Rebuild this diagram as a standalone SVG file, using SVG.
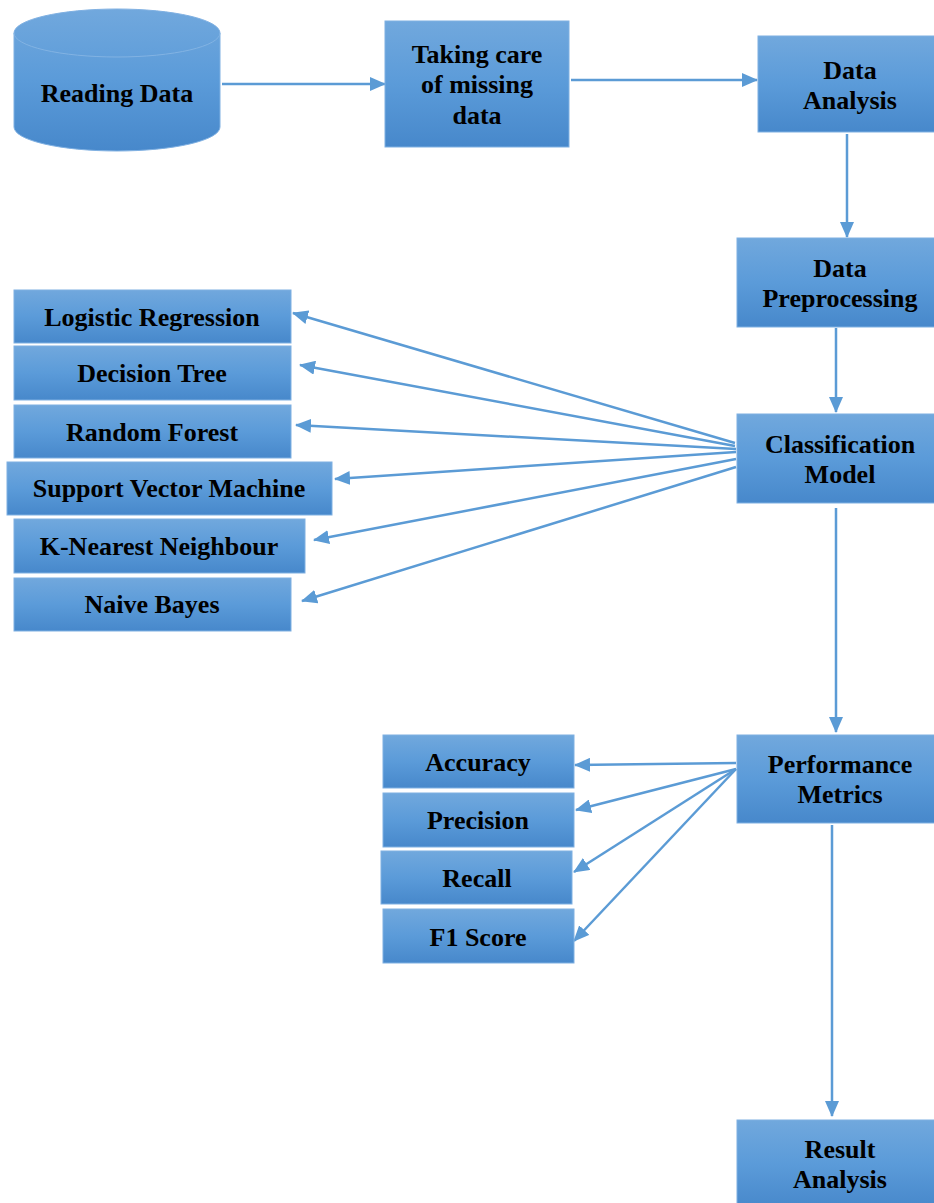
<svg xmlns="http://www.w3.org/2000/svg" width="934" height="1203" viewBox="0 0 934 1203">
<style>
.box{fill:url(#g);stroke:#7fb0e2;stroke-width:1}
.t{font-family:"Liberation Serif","Times New Roman",serif;font-weight:bold;font-size:26px;fill:#000;text-anchor:middle}
.c{stroke:#5b9bd5;stroke-width:2.5;fill:none;marker-end:url(#ah)}
</style>
<defs>
<linearGradient id="g" x1="0" y1="0" x2="0" y2="1">
<stop offset="0" stop-color="#71a8dd"/>
<stop offset="0.5" stop-color="#5b9bd9"/>
<stop offset="1" stop-color="#4788cb"/>
</linearGradient>
<marker id="ah" markerUnits="userSpaceOnUse" markerWidth="16" markerHeight="14" refX="15" refY="7" orient="auto">
<path d="M0,0 L16,7 L0,14 Z" fill="#5b9bd5"/>
</marker>
</defs>
<rect width="934" height="1203" fill="#fff"/>
<g id="connectors">
<line class="c" x1="222" y1="84" x2="385" y2="84"/>
<line class="c" x1="571" y1="80" x2="757" y2="80"/>
<line class="c" x1="847" y1="134" x2="847" y2="237"/>
<line class="c" x1="836" y1="328" x2="836" y2="412"/>
<line class="c" x1="735" y1="443" x2="293" y2="313"/>
<line class="c" x1="735" y1="446" x2="300" y2="365"/>
<line class="c" x1="736" y1="449" x2="296" y2="425"/>
<line class="c" x1="736" y1="452" x2="335" y2="479"/>
<line class="c" x1="736" y1="459" x2="314" y2="540"/>
<line class="c" x1="736" y1="467" x2="302" y2="601"/>
<line class="c" x1="836" y1="508" x2="836" y2="732"/>
<line class="c" x1="736" y1="763" x2="575" y2="765"/>
<line class="c" x1="736" y1="769" x2="576" y2="810"/>
<line class="c" x1="736" y1="769" x2="574" y2="872"/>
<line class="c" x1="736" y1="769" x2="574" y2="941"/>
<line class="c" x1="832" y1="825" x2="832" y2="1116"/>
</g>
<g id="reading-data">
<path d="M14,33 A103,24 0 0 1 220,33 L220,127 A103,24 0 0 1 14,127 Z" fill="url(#g)" stroke="#7fb0e2" stroke-width="1"/>
<path d="M14,33 A103,24 0 0 0 220,33" fill="none" stroke="#82b3e3" stroke-width="1"/>
<text class="t" x="117" y="102">Reading Data</text>
</g>
<g id="missing-data">
<rect class="box" x="385" y="21" width="184" height="126"/>
<text class="t" x="477" y="63">Taking care</text>
<text class="t" x="477" y="93">of missing</text>
<text class="t" x="477" y="124">data</text>
</g>
<g id="data-analysis">
<rect class="box" x="758" y="36" width="180" height="96"/>
<text class="t" x="850" y="79">Data</text>
<text class="t" x="850" y="109">Analysis</text>
</g>
<g id="data-preprocessing">
<rect class="box" x="737" y="238" width="200" height="89"/>
<text class="t" x="840" y="277">Data</text>
<text class="t" x="840" y="307">Preprocessing</text>
</g>
<g id="classification-model">
<rect class="box" x="737" y="414" width="200" height="89"/>
<text class="t" x="840" y="453">Classification</text>
<text class="t" x="840" y="483">Model</text>
</g>
<g id="logistic-regression">
<rect class="box" x="14" y="290" width="277" height="53"/>
<text class="t" x="152" y="326">Logistic Regression</text>
</g>
<g id="decision-tree">
<rect class="box" x="14" y="346" width="277" height="54"/>
<text class="t" x="152" y="382">Decision Tree</text>
</g>
<g id="random-forest">
<rect class="box" x="14" y="405" width="277" height="53"/>
<text class="t" x="152" y="441">Random Forest</text>
</g>
<g id="svm">
<rect class="box" x="7" y="462" width="325" height="53"/>
<text class="t" x="169" y="497">Support Vector Machine</text>
</g>
<g id="knn">
<rect class="box" x="14" y="519" width="291" height="54"/>
<text class="t" x="159" y="555">K-Nearest Neighbour</text>
</g>
<g id="naive-bayes">
<rect class="box" x="14" y="578" width="277" height="53"/>
<text class="t" x="152" y="613">Naive Bayes</text>
</g>
<g id="performance-metrics">
<rect class="box" x="737" y="735" width="200" height="88"/>
<text class="t" x="840" y="773">Performance</text>
<text class="t" x="840" y="803">Metrics</text>
</g>
<g id="accuracy">
<rect class="box" x="383" y="735" width="191" height="53"/>
<text class="t" x="478" y="771">Accuracy</text>
</g>
<g id="precision">
<rect class="box" x="383" y="793" width="191" height="54"/>
<text class="t" x="478" y="829">Precision</text>
</g>
<g id="recall">
<rect class="box" x="381" y="851" width="191" height="53"/>
<text class="t" x="477" y="887">Recall</text>
</g>
<g id="f1-score">
<rect class="box" x="383" y="909" width="191" height="54"/>
<text class="t" x="478" y="946">F1 Score</text>
</g>
<g id="result-analysis">
<rect class="box" x="737" y="1120" width="200" height="88"/>
<text class="t" x="840" y="1158">Result</text>
<text class="t" x="840" y="1188">Analysis</text>
</g>
</svg>
